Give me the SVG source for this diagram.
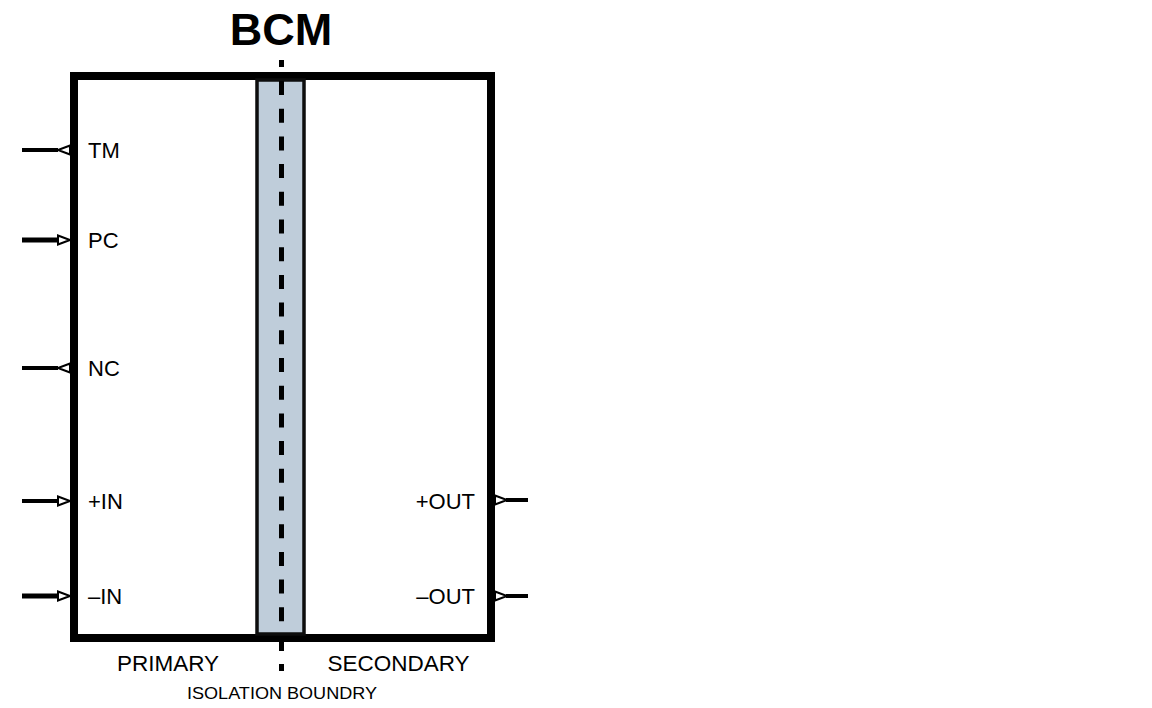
<svg xmlns="http://www.w3.org/2000/svg" width="1152" height="708" viewBox="0 0 1152 708">
<style>
text{font-family:"Liberation Sans",Arial,sans-serif;fill:#000}
.lbl{font-size:22px}
.sec{font-size:22.5px}
.pin{stroke:#000;stroke-width:4;fill:none}
.pinb{stroke:#000;stroke-width:5;fill:none}
.tri{fill:#fff;stroke:#000;stroke-width:2;stroke-linejoin:miter}
</style>
<rect width="1152" height="708" fill="#fff"/>
<g id="module">
<rect x="74" y="76" width="417" height="562" fill="#fff" stroke="#000" stroke-width="8"/>
<rect x="257" y="80" width="47" height="554" fill="#bfcdda" stroke="#0d0d0d" stroke-width="3.5"/>
<text x="281" y="45" text-anchor="middle" font-size="45" font-weight="bold">BCM</text>
</g>
<g id="isolation">
<line x1="281.5" y1="81" x2="281.5" y2="634" stroke="#000" stroke-width="5" stroke-dasharray="14 13.7"/>
<rect x="279" y="60" width="5" height="7" fill="#000"/>
<rect x="279" y="642" width="5" height="9" fill="#000"/>
<rect x="279" y="664" width="5" height="7" fill="#000"/>
<text class="sec" x="168" y="671" text-anchor="middle">PRIMARY</text>
<text class="sec" x="398.5" y="671" text-anchor="middle">SECONDARY</text>
<text x="282" y="699" text-anchor="middle" font-size="17" textLength="190" lengthAdjust="spacingAndGlyphs">ISOLATION BOUNDRY</text>
</g>
<g id="connectors">
<line class="pin" x1="22" y1="150" x2="58" y2="150"/>
<line class="pinb" x1="22" y1="240" x2="58" y2="240"/>
<line class="pin" x1="22" y1="368" x2="58" y2="368"/>
<line class="pin" x1="22" y1="501" x2="58" y2="501"/>
<line class="pinb" x1="22" y1="596" x2="58" y2="596"/>
<line class="pin" x1="506" y1="500" x2="528" y2="500"/>
<line class="pin" x1="506" y1="596" x2="528" y2="596"/>
</g>
<g id="pin-TM">
<polygon class="tri" points="70,145.5 70,154.5 58,150"/>
<text class="lbl" x="88" y="158">TM</text>
</g>
<g id="pin-PC">
<polygon class="tri" points="58,235.5 58,244.5 70,240"/>
<text class="lbl" x="88" y="248">PC</text>
</g>
<g id="pin-NC">
<polygon class="tri" points="70,363.5 70,372.5 58,368"/>
<text class="lbl" x="88" y="376">NC</text>
</g>
<g id="pin-INP">
<polygon class="tri" points="58,496.5 58,505.5 70,501"/>
<text class="lbl" x="88" y="509">+IN</text>
</g>
<g id="pin-INN">
<polygon class="tri" points="58,591.5 58,600.5 70,596"/>
<text class="lbl" x="88" y="604">–IN</text>
</g>
<g id="pin-OUTP">
<polygon class="tri" points="495,495.5 495,504.5 507,500"/>
<text class="lbl" x="475" y="509" text-anchor="end">+OUT</text>
</g>
<g id="pin-OUTN">
<polygon class="tri" points="495,591.5 495,600.5 507,596"/>
<text class="lbl" x="475" y="604" text-anchor="end">–OUT</text>
</g>
</svg>
